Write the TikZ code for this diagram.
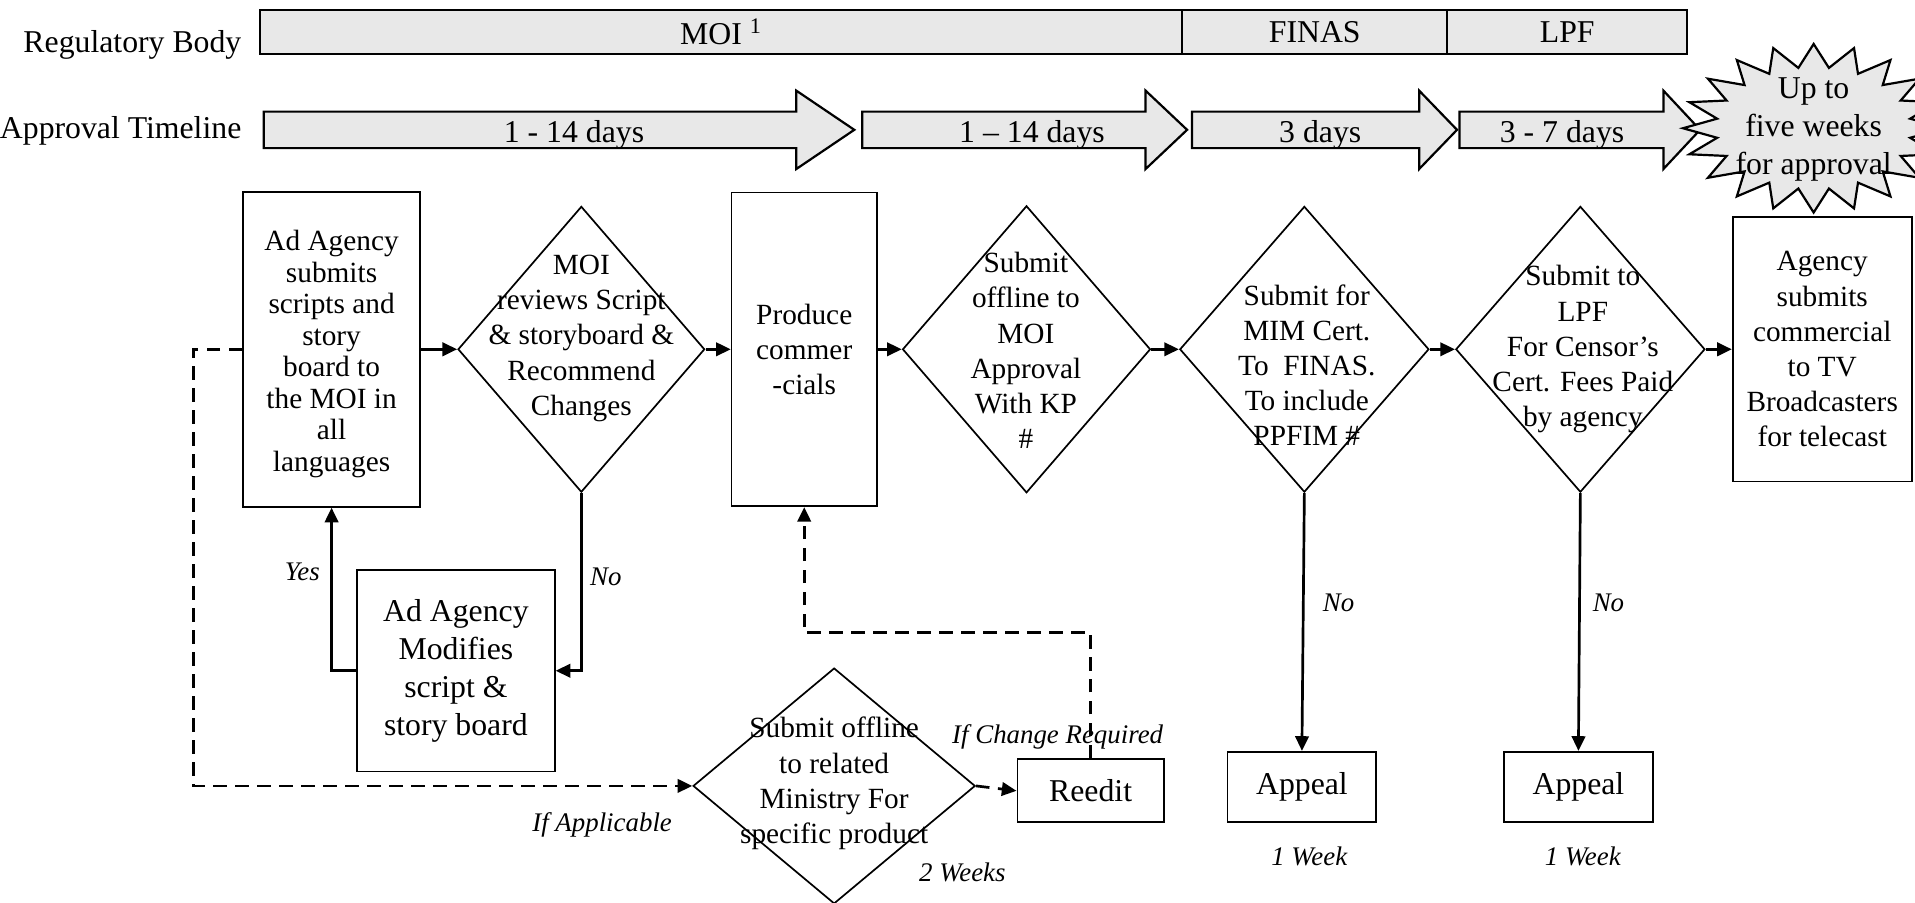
\documentclass[tikz,border=0pt]{standalone}
\usepackage{fontspec}
\setmainfont{Liberation Serif}
\usetikzlibrary{arrows.meta,shapes.geometric}
\definecolor{fillg}{RGB}{232,232,232}
\newcommand\tlarrow[3]{%
  \draw[tlshape] (#1,91.4) -- (#2,91.4) -- (#2,74.2) -- (#3,106.3) -- (#2,138.4) -- (#2,121.3) -- (#1,121.3) -- cycle;}
\begin{document}
\begin{tikzpicture}[x=0.5pt,y=-0.5pt,
  shp/.style={draw, line width=0.7pt, inner sep=0pt, align=center},
  rbox/.style={shp, rectangle},
  dmd/.style={shp, diamond},
  bar/.style={draw, line width=0.9pt, fill=fillg, inner sep=0pt, minimum height=18pt, font=\fontsize{13}{15}\selectfont},
  tlshape/.style={draw, line width=0.9pt, fill=fillg, line join=miter},
  conn/.style={line width=1.1pt, -{Triangle[length=6pt,width=5.5pt]}},
  dconn/.style={conn, dash pattern=on 5.5pt off 3.5pt},
  lbl/.style={font=\fontsize{11}{13}\selectfont\itshape, inner sep=0pt, anchor=base},
  txa/.style={font=\fontsize{12}{12.9}\selectfont, align=center, inner sep=0pt},
  txb/.style={font=\fontsize{12}{14.4}\selectfont, align=center, inner sep=0pt},
  txc/.style={font=\fontsize{13}{15.5}\selectfont},
  head/.style={font=\fontsize{13}{15}\selectfont, inner sep=0pt, anchor=base east},
  tltext/.style={font=\fontsize{13}{15}\selectfont, inner sep=0pt, anchor=base}
]
\useasboundingbox (0,0) rectangle (1568,739);

% ---------- header rows ----------
\node[head] (hreg) at (198,43) {Regulatory Body};
\node[head] (htime) at (198,113) {Approval Timeline};

\node[bar, minimum width=377.5pt] (moi) at (590.5,26.2) {MOI \textsuperscript{1}};
\node[bar, minimum width=108.5pt] (finas) at (1076.5,26.2) {FINAS};
\node[bar, minimum width=98.25pt] (lpf) at (1283.25,26.2) {LPF};

\tlarrow{216}{652}{699.5}
\tlarrow{706}{938}{972}
\tlarrow{976}{1162}{1193}
\tlarrow{1195}{1362}{1392}
\node[tltext] (tl1) at (470,117) {1 - 14 days};
\node[tltext] (tl2) at (845,117) {1 – 14 days};
\node[tltext] (tl3) at (1081,117) {3 days};
\node[tltext] (tl4) at (1279,117) {3 - 7 days};

\draw[fill=fillg, line width=0.9pt, line join=miter]
  plot[samples at={0,...,39}] ({1485+ifthenelse(mod(\x,2)==0,107,80)*cos(\x*9)},
                               {105-ifthenelse(mod(\x,2)==0,69,50)*sin(\x*9)}) -- cycle;
\node[txb, font=\fontsize{13}{15.5}\selectfont] (burst) at (1485,106) {Up to\\five weeks\\for approval};

% ---------- main row ----------
\node[rbox, minimum width=72.5pt, minimum height=129pt] (box1) at (271.5,286) {};
\node[txa] (box1t) at (271.5,290)
  {Ad Agency\\submits\\scripts and\\story\\board to\\the MOI in\\all\\languages};
\node[dmd, minimum width=101pt, minimum height=117pt] (d1) at (476,286) {};
\node[txb] (d1t) at (476,277) {MOI\\reviews Script\\\& storyboard \&\\Recommend\\Changes};

\node[rbox, txb, minimum width=59.5pt, minimum height=128.5pt] (prod) at (658.5,286)
  {Produce\\commer\\-cials};
\node[dmd, minimum width=101.5pt, minimum height=117.5pt] (d2) at (840.5,286) {};
\node[txb] (d2t) at (840,287) {Submit\\offline to\\MOI\\Approval\\With KP\\\#};

\node[dmd, minimum width=102pt, minimum height=117pt] (d3) at (1068,286) {};
\node[txb] (d3t) at (1070,299) {Submit for\\MIM Cert.\\To~ FINAS.\\To include\\PPFIM \#};

\node[dmd, minimum width=102pt, minimum height=117pt] (d4) at (1294,286) {};
\node[txb] (d4t) at (1296,286) {Submit to\\LPF\\For Censor’s\\Cert. Fees Paid\\by agency};

\node[rbox, txb, minimum width=73.3pt, minimum height=108.3pt] (agency) at (1492,286)
  {Agency\\submits\\commercial\\to TV\\Broadcasters\\for telecast};

% ---------- lower part ----------
\node[rbox, txc, minimum width=81pt, minimum height=82.5pt] (modif) at (373.3,549.2)
  {Ad Agency\\Modifies\\script \&\\story board};
\node[dmd, minimum width=115.5pt, minimum height=96.5pt] (d5) at (683,643.5) {};
\node[txb] (d5t) at (683,641.5) {Submit offline\\to related\\Ministry For\\specific product};
\node[rbox, txc, minimum width=60pt, minimum height=25.8pt] (reedit) at (893,647.5) {Reedit};
\node[rbox, txc, minimum width=60.9pt, minimum height=28.9pt] (app1) at (1066,644.4) {Appeal};
\node[rbox, txc, minimum width=60.9pt, minimum height=28.9pt] (app2) at (1292.4,644.4) {Appeal};

% ---------- connectors ----------
\draw[conn] (box1) -- (d1);
\draw[conn] (d1) -- (prod);
\draw[conn] (prod) -- (d2);
\draw[conn] (d2) -- (d3);
\draw[conn] (d3) -- (d4);
\draw[conn] (d4) -- (agency);

\draw[conn] (modif.west) -| (box1.south);
\draw[conn] (d1.south) |- (modif.east);
\draw[dconn] (box1.west) -- ++(-40,0) |- (d5.west);
\draw[dconn] (d5.east) -- (reedit.west);
\draw[dconn] (reedit.north) -- ++(0,-103) -| (prod.south);
\draw[conn] (d3.south) -- (app1.north);
\draw[conn] (d4.south) -- (app2.north);

% ---------- labels ----------
\node[lbl] (lyes) at (247.5,475) {Yes};
\node[lbl] (lno1) at (496,479) {No};
\node[lbl] (lapp) at (493,681) {If Applicable};
\node[lbl] (lchg) at (866,609) {If Change Required};
\node[lbl] (l2w) at (788,722) {2 Weeks};
\node[lbl] (lno2) at (1096,501) {No};
\node[lbl] (lno3) at (1317,501) {No};
\node[lbl] (l1w1) at (1072,709) {1 Week};
\node[lbl] (l1w2) at (1296,709) {1 Week};
\end{tikzpicture}
\end{document}
